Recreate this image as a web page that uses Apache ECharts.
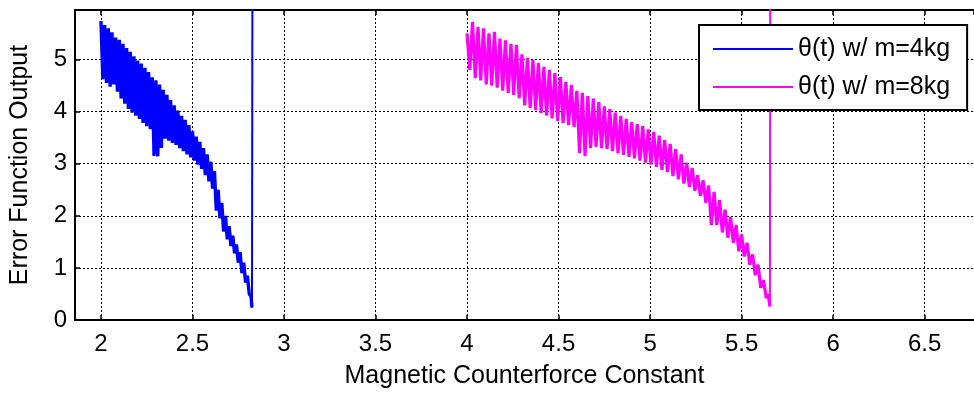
<!DOCTYPE html>
<html>
<head>
<meta charset="utf-8">
<script src="https://cdn.jsdelivr.net/npm/echarts@6/dist/echarts.min.js"></script>
<style>
  html, body { margin: 0; padding: 0; background: #fff; }
  #main { width: 974px; height: 394px; }
</style>
</head>
<body>
<div id="main"></div>
<script>
// axis ranges
const xRange = [1.858, 6.77];
const yRange = [0, 5.95];
const seriesNames = ['\u03b8(t) w/ m=4kg', '\u03b8(t) w/ m=8kg'];

// theta(t), m = 4kg  (zigzag read point by point)
const theta4kg = [
  [2.00, 5.74], [2.01, 4.62], [2.02, 5.66], [2.03, 4.55], [2.04, 5.60], [2.05, 4.48],
  [2.06, 5.52], [2.07, 4.52], [2.08, 5.42], [2.09, 4.38], [2.10, 5.38], [2.11, 4.25],
  [2.12, 5.30], [2.13, 4.15], [2.14, 5.22], [2.15, 4.05], [2.16, 5.15], [2.17, 3.98],
  [2.18, 5.06], [2.19, 3.92], [2.20, 4.98], [2.21, 3.86], [2.22, 4.92], [2.23, 3.78],
  [2.24, 4.84], [2.25, 3.72], [2.26, 4.76], [2.27, 3.66], [2.28, 4.66], [2.29, 3.15],
  [2.30, 4.60], [2.31, 3.14], [2.32, 4.52], [2.33, 3.30], [2.34, 4.42], [2.35, 3.48],
  [2.36, 4.32], [2.37, 3.44], [2.38, 4.22], [2.39, 3.40], [2.40, 4.12], [2.41, 3.36],
  [2.42, 4.02], [2.43, 3.30], [2.44, 3.92], [2.45, 3.24], [2.46, 3.84], [2.47, 3.18],
  [2.48, 3.74], [2.49, 3.12], [2.50, 3.62], [2.51, 3.06], [2.52, 3.52], [2.53, 2.98],
  [2.54, 3.42], [2.55, 2.90], [2.56, 3.30], [2.57, 2.78], [2.58, 3.18], [2.59, 2.66],
  [2.60, 3.04], [2.61, 2.52], [2.62, 2.86], [2.63, 2.10], [2.64, 2.50], [2.65, 1.95],
  [2.66, 2.25], [2.67, 1.70], [2.68, 2.00], [2.69, 1.55], [2.70, 1.80], [2.71, 1.42],
  [2.72, 1.62], [2.73, 1.28], [2.74, 1.45], [2.75, 1.10], [2.76, 1.30], [2.77, 0.90],
  [2.78, 1.10], [2.79, 0.72], [2.80, 0.85], [2.81, 0.50], [2.82, 0.45], [2.825, 0.24]
];
// jump off the top at the end of the 4kg run
const jump4kg = [[2.825, 0.24], [2.828, 8]];

// theta(t), m = 8kg
const theta8kg = [
  [4.000, 5.50], [4.015, 4.80], [4.030, 5.72], [4.045, 4.64], [4.060, 5.62], [4.075, 4.60],
  [4.090, 5.60], [4.105, 4.52], [4.120, 5.50], [4.135, 4.50], [4.150, 5.53], [4.165, 4.46],
  [4.180, 5.40], [4.195, 4.40], [4.210, 5.37], [4.225, 4.36], [4.240, 5.30], [4.255, 4.32],
  [4.270, 5.28], [4.285, 4.26], [4.300, 5.10], [4.315, 4.12], [4.330, 5.03], [4.345, 4.07],
  [4.360, 4.99], [4.375, 4.03], [4.390, 4.93], [4.405, 3.97], [4.420, 4.86], [4.435, 3.92],
  [4.450, 4.80], [4.465, 3.87], [4.480, 4.74], [4.495, 3.82], [4.510, 4.66], [4.525, 3.78],
  [4.540, 4.57], [4.555, 3.74], [4.570, 4.51], [4.585, 3.70], [4.600, 4.40], [4.615, 3.20],
  [4.630, 4.36], [4.645, 3.15], [4.660, 4.30], [4.675, 3.30], [4.690, 4.25], [4.705, 3.32],
  [4.720, 4.18], [4.735, 3.30], [4.750, 4.10], [4.765, 3.28], [4.780, 4.05], [4.795, 3.24],
  [4.810, 3.98], [4.825, 3.20], [4.840, 3.92], [4.855, 3.17], [4.870, 3.86], [4.885, 3.13],
  [4.900, 3.80], [4.915, 3.10], [4.930, 3.76], [4.945, 3.06], [4.960, 3.72], [4.975, 3.02],
  [4.990, 3.66], [5.005, 2.98], [5.020, 3.61], [5.035, 2.94], [5.050, 3.54], [5.065, 2.88],
  [5.080, 3.45], [5.095, 2.84], [5.110, 3.38], [5.125, 2.76], [5.140, 3.28], [5.155, 2.70],
  [5.170, 3.18], [5.185, 2.62], [5.200, 3.02], [5.215, 2.55], [5.230, 2.92], [5.245, 2.48],
  [5.260, 2.78], [5.275, 2.38], [5.290, 2.68], [5.305, 2.25], [5.320, 2.58], [5.335, 1.82],
  [5.350, 2.46], [5.365, 1.82], [5.380, 2.30], [5.395, 1.68], [5.410, 2.12], [5.425, 1.58],
  [5.440, 1.98], [5.455, 1.48], [5.470, 1.82], [5.485, 1.32], [5.500, 1.64], [5.515, 1.22],
  [5.530, 1.48], [5.545, 1.06], [5.560, 1.26], [5.575, 0.86], [5.590, 1.06], [5.605, 0.62],
  [5.620, 0.76], [5.635, 0.42], [5.645, 0.50], [5.655, 0.26]
];
const jump8kg = [[5.655, 0.26], [5.657, 8]];

const myChart = echarts.init(document.getElementById('main'));
const font = 'Liberation Sans, Arial, sans-serif';
const gridDots = { color: '#000', width: 1, type: [2, 2] };

const xCommon = {
  type: 'value',
  min: xRange[0],
  max: xRange[1],
  minInterval: 0.5,
  maxInterval: 0.5,
  axisLine: { onZero: false, lineStyle: { color: '#000', width: 2 } },
  axisTick: { inside: true, length: 5, lineStyle: { color: '#000', width: 1.5 } },
};

let option;
option = {
  animation: false,
  backgroundColor: '#fff',
  grid: { left: 72, right: 0, top: 10, bottom: 73 },
  legend: {
    orient: 'vertical',
    left: 699,
    top: 25,
    data: seriesNames,
    icon: 'rect',
    itemWidth: 80,
    itemHeight: 2,
    itemGap: -4,
    padding: [3, 17, 2, 14],
    borderColor: '#000',
    borderWidth: 2,
    backgroundColor: '#fff',
    textStyle: {
      fontFamily: font, fontSize: 25, color: '#000', lineHeight: 26,
      padding: [16, 0, 0, 0],
    },
  },
  xAxis: [
    Object.assign({}, xCommon, {
      position: 'bottom',
      name: 'Magnetic Counterforce Constant',
      nameLocation: 'middle',
      nameGap: 44,
      nameTextStyle: { fontFamily: font, fontSize: 25, color: '#000' },
      axisLabel: {
        margin: 12, fontFamily: font, fontSize: 24, color: '#000',
        showMinLabel: false, showMaxLabel: false,
      },
      splitLine: { show: true, lineStyle: gridDots },
    }),
    Object.assign({}, xCommon, {
      position: 'top',
      axisLabel: { show: false },
      splitLine: { show: false },
    }),
  ],
  yAxis: {
    type: 'value',
    min: yRange[0],
    max: yRange[1],
    interval: 1,
    name: 'Error Function Output',
    nameLocation: 'middle',
    nameGap: 42,
    nameTextStyle: { fontFamily: font, fontSize: 25, color: '#000' },
    axisLine: { show: true, lineStyle: { color: '#000', width: 2 } },
    axisTick: { show: true, inside: true, length: 5, lineStyle: { color: '#000', width: 1.5 } },
    axisLabel: {
      margin: 8, fontFamily: font, fontSize: 24, color: '#000', showMaxLabel: false,
    },
    splitLine: { show: true, lineStyle: gridDots },
  },
  series: [
    {
      name: seriesNames[0],
      type: 'line',
      data: theta4kg,
      symbol: 'none',
      color: '#0000ff',
      lineStyle: { width: 3.4, color: '#0000ff', join: 'bevel' },
    },
    {
      name: seriesNames[0],
      type: 'line',
      data: jump4kg,
      symbol: 'none',
      color: '#0000ff',
      lineStyle: { width: 2, color: '#0000ff' },
    },
    {
      name: seriesNames[1],
      type: 'line',
      data: theta8kg,
      symbol: 'none',
      color: '#ff00ff',
      lineStyle: { width: 3.2, color: '#ff00ff', join: 'bevel' },
    },
    {
      name: seriesNames[1],
      type: 'line',
      data: jump8kg,
      symbol: 'none',
      color: '#ff00ff',
      lineStyle: { width: 2, color: '#ff00ff' },
    },
  ],
};
option && myChart.setOption(option);
</script>
</body>
</html>
